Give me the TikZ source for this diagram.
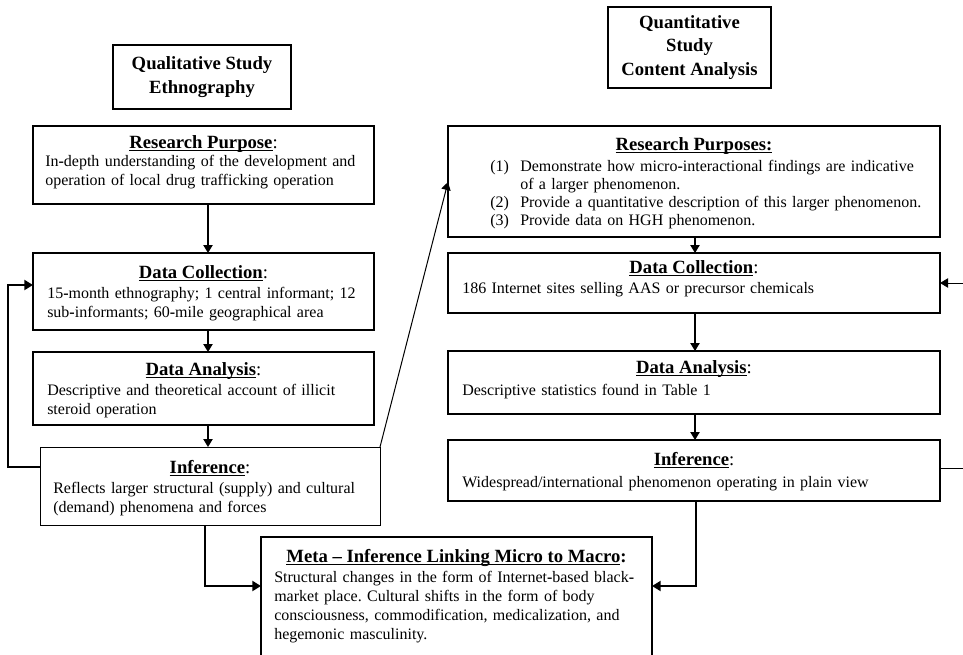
\documentclass[tikz,border=0pt]{standalone}
\usepackage{fontspec}
\setmainfont{Liberation Serif}
\usetikzlibrary{arrows.meta}
\frenchspacing
\newsavebox\hdbox
\newcommand\hd[1]{\sbox\hdbox{\textbf{#1}}\rlap{\rule[-2.3pt]{\wd\hdbox}{0.9pt}}\usebox\hdbox}
\newcommand\bh{\textbf{-}}
\newcommand\mkbox[6]{\node[#2, minimum width={(#5-#3)*0.75pt}, minimum height={(#6-#4)*0.75pt}] (#1) at ({(#3+#5)/2},{(#4+#6)/2}) {};}
\tikzset{
  box/.style={draw, line width=1.5pt, inner sep=0pt, outer sep=0pt},
  thinbox/.style={draw, line width=0.7pt, inner sep=0pt, outer sep=0pt},
  hdrbox/.style={draw, line width=1.3pt, inner sep=0pt, outer sep=0pt, align=center, font=\fontsize{14}{17.5}\selectfont\bfseries},
  ttl/.style={font=\fontsize{14}{14}\selectfont, anchor=base, inner sep=0pt},
  bodytxt/.style={font=\fontsize{12}{14.6}\selectfont, text width=#1, align=left, anchor=base west, inner sep=0pt},
  arr/.style={line width=1pt, -{Triangle[length=6pt,width=7pt]}},
  thinarr/.style={line width=0.75pt, -{Triangle[length=6pt,width=7pt]}},
  heavyarr/.style={line width=1.5pt, -{Triangle[length=6.5pt,width=7.5pt]}},
}
\begin{document}
\begin{tikzpicture}[x=0.75pt,y=-0.75pt]
\useasboundingbox (0,0) rectangle (963,654);
% header boxes
\node[hdrbox, minimum width={178*0.75pt}, minimum height={64*0.75pt}] (qual) at (202,77) {Qualitative Study\\Ethnography};
\node[hdrbox, minimum width={163*0.75pt}, minimum height={81*0.75pt}] (quan) at (689.5,47.5) {Quantitative\\Study\\Content Analysis};
% left column boxes
\mkbox{lrp}{box}{33}{126}{374}{204}
\mkbox{ldc}{box}{33}{253}{374}{330}
\mkbox{lda}{box}{33}{352}{374}{425}
\mkbox{linf}{thinbox}{40}{447}{380}{525}
% right column boxes
\mkbox{rrp}{box}{448}{126}{940}{237}
\mkbox{rdc}{box}{448}{253}{940}{313}
\mkbox{rda}{box}{448}{351}{940}{414}
\mkbox{rinf}{box}{448}{440}{940}{501}
% meta box
\mkbox{meta}{box}{261}{537}{652}{690}
% left texts
\node[ttl] (lrp-h) at (203.5,148) {\hd{Research Purpose}:};
\node[bodytxt=330pt] (lrp-b) at (45,166) {In\bh depth understanding of the development and\\operation of local drug trafficking operation};
\node[ttl] (ldc-h) at (203.5,278) {\hd{Data Collection}:};
\node[bodytxt=330pt] (ldc-b) at (47,298) {15\bh month ethnography; 1 central informant; 12\\sub\bh informants; 60\bh mile geographical area};
\node[ttl] (lda-h) at (203.5,375) {\hd{Data Analysis}:};
\node[bodytxt=330pt] (lda-b) at (47,395) {Descriptive and theoretical account of illicit\\steroid operation};
\node[ttl] (linf-h) at (210,473) {\hd{Inference}:};
\node[bodytxt=330pt] (linf-b) at (53,493) {Reflects larger structural (supply) and cultural};
\node[bodytxt=330pt] (linf-b2) at (53,512.5) {(demand) phenomena and forces};
% right texts
\node[ttl] (rrp-h) at (694,150) {\hd{Research Purposes:}};
\node[bodytxt=400pt, font=\fontsize{12}{13.6}\selectfont] (rrp-b) at (490,171) {\makebox[22.5pt][l]{(1)}Demonstrate how micro\bh interactional findings are indicative\\\hspace*{22.5pt}of a larger phenomenon.\\\makebox[22.5pt][l]{(2)}Provide a quantitative description of this larger phenomenon.\\\makebox[22.5pt][l]{(3)}Provide data on HGH phenomenon.};
\node[ttl] (rdc-h) at (694,273) {\hd{Data Collection}:};
\node[bodytxt=400pt] (rdc-b) at (462,293) {186 Internet sites selling AAS or precursor chemicals};
\node[ttl] (rda-h) at (694,373) {\hd{Data Analysis}:};
\node[bodytxt=400pt] (rda-b) at (462,395) {Descriptive statistics found in Table 1};
\node[ttl] (rinf-h) at (694,465) {\hd{Inference}:};
\node[bodytxt=400pt] (rinf-b) at (462,487) {Widespread/international phenomenon operating in plain view};
% meta texts
\node[ttl] (meta-h) at (456.5,562) {\hd{Meta -- Inference Linking Micro to Macro}\textbf{:}};
\node[bodytxt=300pt, font=\fontsize{12}{14.3}\selectfont] (meta-b) at (274,582) {Structural changes in the form of Internet\bh based black\bh\\market place. Cultural shifts in the form of body\\consciousness, commodification, medicalization, and\\hegemonic masculinity.};
% helper coordinates
\coordinate (axl) at (208,0);
\coordinate (axr) at (695,0);
\coordinate (lfa) at (8,467);
\coordinate (lfb) at (8,285);
\coordinate (rfa) at (975,468);
\coordinate (rfb) at (975,283);
\coordinate (dg) at (0,182);
\coordinate (mla) at (205,586);
\coordinate (mra) at (696,586);
% connectors
\draw[arr] (lrp.south -| axl) -- (ldc.north -| axl);
\draw[arr] (ldc.south -| axl) -- (lda.north -| axl);
\draw[arr] (lda.south -| axl) -- (linf.north -| axl);
\draw[arr] (rrp.south -| axr) -- (rdc.north -| axr);
\draw[arr] (rdc.south -| axr) -- (rda.north -| axr);
\draw[arr] (rda.south -| axr) -- (rinf.north -| axr);
\draw[heavyarr] (linf.west |- lfa) -- (lfa) -- (lfb) -- (ldc.west |- lfb);
\draw[thinarr] (rinf.east |- rfa) -- (rfa) -- (rfb) -- (rdc.east |- rfb);
\draw[thinarr] (linf.north east) -- (rrp.west |- dg);
\draw[heavyarr] (linf.south -| mla) -- (mla) -- (meta.west |- mla);
\draw[heavyarr] (rinf.south -| mra) -- (mra) -- (meta.east |- mra);
\end{tikzpicture}
\end{document}
